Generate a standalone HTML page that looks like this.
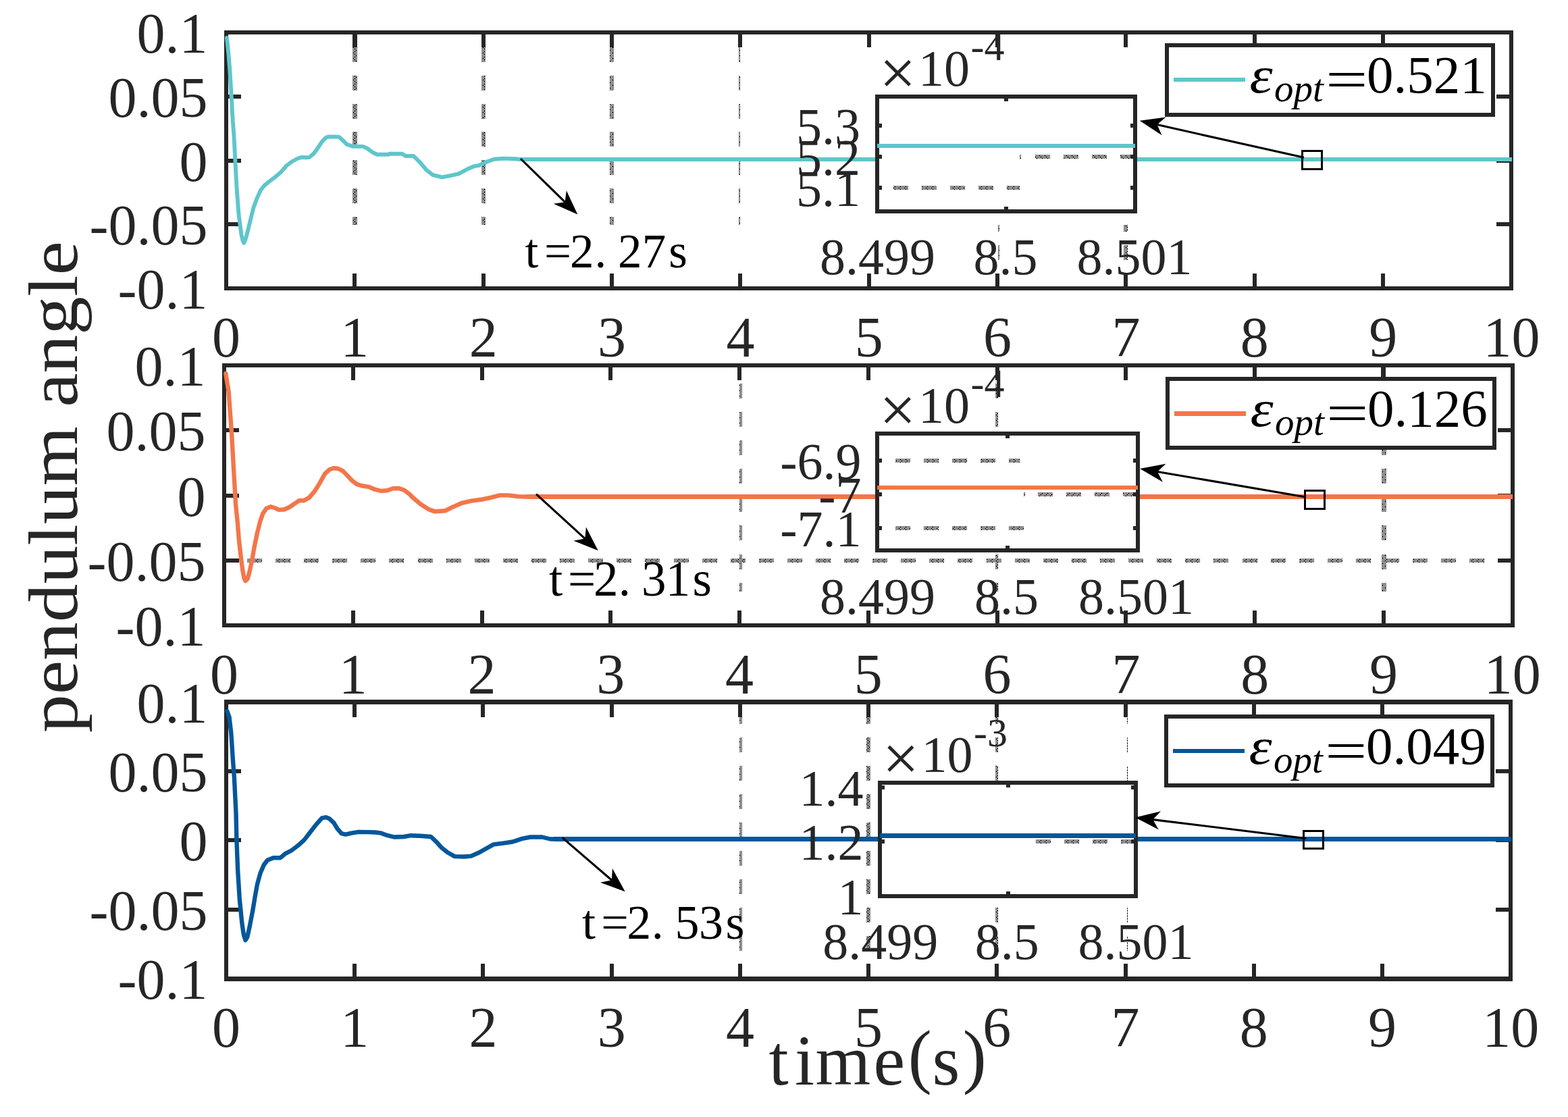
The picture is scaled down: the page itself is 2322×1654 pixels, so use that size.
<!DOCTYPE html>
<html lang="en"><head><meta charset="utf-8"><title>pendulum angle</title><style>html,body{margin:0;padding:0;background:#fff;}svg{display:block;}text{white-space:pre;}</style></head><body>
<svg width="2322" height="1654" viewBox="0 0 2322 1654" role="img" aria-label="pendulum angle versus time(s)">
<defs><pattern id="dz" width="8" height="8" patternUnits="userSpaceOnUse" shape-rendering="crispEdges"><rect width="8" height="8" fill="#ffffff"/><rect x="0" y="0" width="1" height="1" fill="#1e1e1e"/><rect x="0" y="2" width="1" height="1" fill="#1e1e1e"/><rect x="0" y="4" width="1" height="1" fill="#1e1e1e"/><rect x="0" y="6" width="1" height="1" fill="#1e1e1e"/><rect x="1" y="1" width="1" height="1" fill="#1e1e1e"/><rect x="1" y="3" width="1" height="1" fill="#1e1e1e"/><rect x="1" y="5" width="1" height="1" fill="#1e1e1e"/><rect x="1" y="7" width="1" height="1" fill="#1e1e1e"/><rect x="2" y="0" width="1" height="1" fill="#1e1e1e"/><rect x="2" y="2" width="1" height="1" fill="#1e1e1e"/><rect x="2" y="4" width="1" height="1" fill="#1e1e1e"/><rect x="2" y="6" width="1" height="1" fill="#1e1e1e"/><rect x="3" y="1" width="1" height="1" fill="#1e1e1e"/><rect x="3" y="3" width="1" height="1" fill="#1e1e1e"/><rect x="3" y="5" width="1" height="1" fill="#1e1e1e"/><rect x="3" y="6" width="1" height="1" fill="#1e1e1e"/><rect x="3" y="7" width="1" height="1" fill="#1e1e1e"/><rect x="4" y="0" width="1" height="1" fill="#1e1e1e"/><rect x="4" y="2" width="1" height="1" fill="#1e1e1e"/><rect x="4" y="4" width="1" height="1" fill="#1e1e1e"/><rect x="4" y="6" width="1" height="1" fill="#1e1e1e"/><rect x="5" y="0" width="1" height="1" fill="#1e1e1e"/><rect x="5" y="1" width="1" height="1" fill="#1e1e1e"/><rect x="5" y="3" width="1" height="1" fill="#1e1e1e"/><rect x="5" y="4" width="1" height="1" fill="#1e1e1e"/><rect x="5" y="5" width="1" height="1" fill="#1e1e1e"/><rect x="5" y="7" width="1" height="1" fill="#1e1e1e"/><rect x="6" y="0" width="1" height="1" fill="#1e1e1e"/><rect x="6" y="2" width="1" height="1" fill="#1e1e1e"/><rect x="6" y="4" width="1" height="1" fill="#1e1e1e"/><rect x="6" y="6" width="1" height="1" fill="#1e1e1e"/><rect x="7" y="1" width="1" height="1" fill="#1e1e1e"/><rect x="7" y="2" width="1" height="1" fill="#1e1e1e"/><rect x="7" y="3" width="1" height="1" fill="#1e1e1e"/><rect x="7" y="5" width="1" height="1" fill="#1e1e1e"/><rect x="7" y="7" width="1" height="1" fill="#1e1e1e"/></pattern></defs>
<rect x="0" y="0" width="2322" height="1654" fill="#ffffff" />
<g id="ax1">
<rect x="522" y="70" width="7" height="22" fill="url(#dz)" />
<rect x="522" y="112" width="7" height="22" fill="url(#dz)" />
<rect x="522" y="154" width="7" height="22" fill="url(#dz)" />
<rect x="522" y="195" width="7" height="22" fill="url(#dz)" />
<rect x="522" y="237" width="7" height="22" fill="url(#dz)" />
<rect x="522" y="279" width="7" height="22" fill="url(#dz)" />
<rect x="522" y="321" width="7" height="12" fill="url(#dz)" />
<rect x="713" y="70" width="6" height="22" fill="url(#dz)" />
<rect x="713" y="112" width="6" height="22" fill="url(#dz)" />
<rect x="713" y="154" width="6" height="22" fill="url(#dz)" />
<rect x="713" y="195" width="6" height="22" fill="url(#dz)" />
<rect x="713" y="237" width="6" height="22" fill="url(#dz)" />
<rect x="713" y="279" width="6" height="22" fill="url(#dz)" />
<rect x="713" y="321" width="6" height="12" fill="url(#dz)" />
<rect x="903" y="70" width="6" height="22" fill="url(#dz)" />
<rect x="903" y="112" width="6" height="22" fill="url(#dz)" />
<rect x="903" y="154" width="6" height="22" fill="url(#dz)" />
<rect x="903" y="195" width="6" height="22" fill="url(#dz)" />
<rect x="903" y="237" width="6" height="22" fill="url(#dz)" />
<rect x="903" y="279" width="6" height="22" fill="url(#dz)" />
<rect x="903" y="321" width="6" height="12" fill="url(#dz)" />
<rect x="1094" y="70" width="2" height="22" fill="url(#dz)" />
<rect x="1094" y="112" width="2" height="22" fill="url(#dz)" />
<rect x="1094" y="154" width="2" height="22" fill="url(#dz)" />
<rect x="1094" y="195" width="2" height="22" fill="url(#dz)" />
<rect x="1094" y="237" width="2" height="22" fill="url(#dz)" />
<rect x="1094" y="279" width="2" height="22" fill="url(#dz)" />
<rect x="1094" y="321" width="2" height="12" fill="url(#dz)" />
<rect x="1478" y="333" width="2" height="10" fill="url(#dz)" />
<rect x="1478" y="363" width="2" height="22" fill="url(#dz)" />
<rect x="1664" y="333" width="6" height="10" fill="url(#dz)" />
<rect x="1664" y="363" width="6" height="22" fill="url(#dz)" />
<rect x="332" y="45" width="1909" height="6" fill="#262626" />
<rect x="332" y="424" width="1909" height="6" fill="#262626" />
<rect x="332" y="45" width="6" height="385" fill="#262626" />
<rect x="2235" y="45" width="6" height="385" fill="#262626" />
<rect x="522" y="48" width="7" height="22" fill="#262626" />
<rect x="522" y="405" width="6" height="22" fill="#262626" />
<rect x="713" y="48" width="6" height="22" fill="#262626" />
<rect x="713" y="405" width="6" height="22" fill="#262626" />
<rect x="903" y="48" width="6" height="22" fill="#262626" />
<rect x="903" y="405" width="6" height="22" fill="#262626" />
<rect x="1093" y="48" width="6" height="22" fill="#262626" />
<rect x="1093" y="405" width="6" height="22" fill="#262626" />
<rect x="1284" y="48" width="6" height="22" fill="#262626" />
<rect x="1284" y="405" width="6" height="22" fill="#262626" />
<rect x="1474" y="48" width="6" height="22" fill="#262626" />
<rect x="1474" y="405" width="6" height="22" fill="#262626" />
<rect x="1664" y="48" width="6" height="22" fill="#262626" />
<rect x="1664" y="405" width="6" height="22" fill="#262626" />
<rect x="1855" y="48" width="6" height="22" fill="#262626" />
<rect x="1855" y="405" width="6" height="22" fill="#262626" />
<rect x="2045" y="48" width="6" height="22" fill="#262626" />
<rect x="2045" y="405" width="6" height="22" fill="#262626" />
<rect x="335" y="140" width="22" height="6" fill="#262626" />
<rect x="2216" y="140" width="22" height="6" fill="#262626" />
<rect x="335" y="235" width="22" height="6" fill="#262626" />
<rect x="2216" y="235" width="22" height="6" fill="#262626" />
<rect x="335" y="329" width="22" height="6" fill="#262626" />
<rect x="2216" y="329" width="22" height="6" fill="#262626" />
<text x="335" y="528" font-family="Liberation Serif, serif" font-size="84" text-anchor="middle" fill="#262626" >0</text>
<text x="525.35" y="528" font-family="Liberation Serif, serif" font-size="84" text-anchor="middle" fill="#262626" >1</text>
<text x="715.7" y="528" font-family="Liberation Serif, serif" font-size="84" text-anchor="middle" fill="#262626" >2</text>
<text x="906.05" y="528" font-family="Liberation Serif, serif" font-size="84" text-anchor="middle" fill="#262626" >3</text>
<text x="1096.4" y="528" font-family="Liberation Serif, serif" font-size="84" text-anchor="middle" fill="#262626" >4</text>
<text x="1286.75" y="528" font-family="Liberation Serif, serif" font-size="84" text-anchor="middle" fill="#262626" >5</text>
<text x="1477.1" y="528" font-family="Liberation Serif, serif" font-size="84" text-anchor="middle" fill="#262626" >6</text>
<text x="1667.45" y="528" font-family="Liberation Serif, serif" font-size="84" text-anchor="middle" fill="#262626" >7</text>
<text x="1857.8" y="528" font-family="Liberation Serif, serif" font-size="84" text-anchor="middle" fill="#262626" >8</text>
<text x="2048.15" y="528" font-family="Liberation Serif, serif" font-size="84" text-anchor="middle" fill="#262626" >9</text>
<text x="2238.5" y="528" font-family="Liberation Serif, serif" font-size="84" text-anchor="middle" fill="#262626" >10</text>
<text x="307.5" y="78" font-family="Liberation Serif, serif" font-size="84" text-anchor="end" fill="#262626" >0.1</text>
<text x="307.5" y="172.75" font-family="Liberation Serif, serif" font-size="84" text-anchor="end" fill="#262626" >0.05</text>
<text x="307.5" y="267.5" font-family="Liberation Serif, serif" font-size="84" text-anchor="end" fill="#262626" >0</text>
<text x="307.5" y="362.25" font-family="Liberation Serif, serif" font-size="84" text-anchor="end" fill="#262626" >-0.05</text>
<text x="307.5" y="457" font-family="Liberation Serif, serif" font-size="84" text-anchor="end" fill="#262626" >-0.1</text>
<polyline points="335.8,56.0 336.6,62.0 338.4,79.5 340.5,106.0 342.7,143.0 344.8,180.0 346.4,200.0 348.3,236.9 350.6,279.0 353.6,318.6 357.5,347.6 359.5,356.0 361.2,359.8 363.0,356.0 365.5,347.6 370.7,326.5 375.3,308.0 380.0,294.9 385.9,281.7 391.8,274.4 399.0,268.5 407.0,262.6 416.2,254.7 424.0,245.5 432.0,239.5 441.2,234.5 446.5,232.9 453.0,233.3 458.3,232.9 465.0,227.0 470.2,219.8 476.8,209.9 482.7,203.7 487.3,202.4 501.8,202.6 507.0,207.2 513.7,213.8 522.9,216.9 537.4,216.9 544.0,219.8 551.9,225.7 558.5,228.7 575.6,228.7 576.9,227.7 595.4,227.7 600.6,231.0 612.5,231.0 622.8,241.3 631.6,251.8 640.4,258.8 654.4,262.3 666.7,260.2 679.0,257.4 693.0,250.0 701.8,246.2 708.8,245.1 721.1,239.5 731.6,235.7 745.7,234.6 763.2,235.3 770.3,236.0 780.0,236.0" fill="none" stroke="#5FC6CB" stroke-width="5.9" stroke-linejoin="round" stroke-linecap="round"/>
<rect x="775" y="233" width="1464" height="6" fill="#5FC6CB" />
<line x1="771.0" y1="235.0" x2="836.6" y2="299.2" stroke="#000" stroke-width="3.1"/>
<polygon points="855.4,317.6 819.7,301.8 836.6,299.2 838.8,282.2" fill="#000"/>
<text x="777.6 806.1 844.0 880.4 915.1 950.8 990.3" y="395.5" font-family="Liberation Serif, serif" font-size="71" fill="#000">t=2.27s</text>
<rect x="1299" y="143" width="382" height="169" fill="#ffffff" />
<rect x="1323" y="275" width="22" height="6" fill="url(#dz)" />
<rect x="1365" y="275" width="22" height="6" fill="url(#dz)" />
<rect x="1407" y="275" width="22" height="6" fill="url(#dz)" />
<rect x="1449" y="275" width="22" height="6" fill="url(#dz)" />
<rect x="1491" y="275" width="19" height="6" fill="url(#dz)" />
<rect x="1510" y="229" width="2" height="6" fill="url(#dz)" />
<rect x="1533" y="229" width="22" height="6" fill="url(#dz)" />
<rect x="1575" y="229" width="22" height="6" fill="url(#dz)" />
<rect x="1617" y="229" width="22" height="6" fill="url(#dz)" />
<rect x="1659" y="229" width="19" height="6" fill="url(#dz)" />
<rect x="1296" y="140" width="388" height="6" fill="#262626" />
<rect x="1296" y="310" width="388" height="6" fill="#262626" />
<rect x="1296" y="140" width="6" height="176" fill="#262626" />
<rect x="1678" y="140" width="6" height="176" fill="#262626" />
<rect x="1487" y="143" width="6" height="7" fill="#262626" />
<rect x="1487" y="306" width="6" height="6" fill="#262626" />
<rect x="1299" y="183" width="7" height="6" fill="#262626" />
<rect x="1674" y="183" width="7" height="6" fill="#262626" />
<rect x="1299" y="229" width="7" height="6" fill="#262626" />
<rect x="1674" y="229" width="7" height="6" fill="#262626" />
<rect x="1299" y="275" width="7" height="6" fill="#262626" />
<rect x="1674" y="275" width="7" height="6" fill="#262626" />
<rect x="1299" y="213" width="382" height="6" fill="#5FC6CB" />
<text x="1274" y="213" font-family="Liberation Serif, serif" font-size="76" text-anchor="end" fill="#262626" >5.3</text>
<text x="1274" y="259" font-family="Liberation Serif, serif" font-size="76" text-anchor="end" fill="#262626" >5.2</text>
<text x="1274" y="305.2" font-family="Liberation Serif, serif" font-size="76" text-anchor="end" fill="#262626" >5.1</text>
<text x="1299.5" y="405.5" font-family="Liberation Serif, serif" font-size="76" text-anchor="middle" fill="#262626" >8.499</text>
<text x="1489" y="405.5" font-family="Liberation Serif, serif" font-size="76" text-anchor="middle" fill="#262626" >8.5</text>
<text x="1680" y="405.5" font-family="Liberation Serif, serif" font-size="76" text-anchor="middle" fill="#262626" >8.501</text>
<text x="1302.3" y="127" font-family="Liberation Serif, serif" font-size="76" fill="#262626"><tspan font-size="96" dy="12.5">×</tspan><tspan x="1360" dy="-12.5">10</tspan><tspan x="1437.6" dy="-38" font-size="60">-4</tspan></text>
<line x1="1931.0" y1="233.3" x2="1713.5" y2="184.6" stroke="#000" stroke-width="3.1"/>
<polygon points="1687.8,178.8 1726.5,173.4 1713.5,184.6 1720.5,200.2" fill="#000"/>
<rect x="1928.5" y="223.5" width="29" height="27" fill="none" stroke="#000" stroke-width="3"/>
<rect x="1728" y="67" width="483" height="103" fill="#ffffff" />
<rect x="1725" y="64" width="489" height="6" fill="#262626" />
<rect x="1725" y="167" width="489" height="6" fill="#262626" />
<rect x="1725" y="64" width="6" height="109" fill="#262626" />
<rect x="2208" y="64" width="6" height="109" fill="#262626" />
<rect x="1738" y="115" width="106" height="6" fill="#5FC6CB" />
<g fill="#000" font-family="Liberation Serif, serif">
<text transform="translate(1850.5,137) scale(1.14,1)" font-size="76" font-style="italic">ε</text>
<text x="1887" y="150" font-size="57" font-style="italic">opt</text>
<text x="1963" y="144" font-size="79" textLength="62.6" lengthAdjust="spacingAndGlyphs">=</text>
<text x="2024" y="137" font-size="79">0.521</text>
</g>
</g>
<g id="ax2">
<rect x="1095" y="568" width="4" height="22" fill="url(#dz)" />
<rect x="1095" y="610" width="4" height="22" fill="url(#dz)" />
<rect x="1095" y="652" width="4" height="22" fill="url(#dz)" />
<rect x="1095" y="694" width="4" height="22" fill="url(#dz)" />
<rect x="1095" y="736" width="4" height="22" fill="url(#dz)" />
<rect x="1095" y="778" width="4" height="22" fill="url(#dz)" />
<rect x="1095" y="821" width="4" height="22" fill="url(#dz)" />
<rect x="1095" y="863" width="4" height="13" fill="url(#dz)" />
<rect x="1474" y="568" width="4" height="22" fill="url(#dz)" />
<rect x="1474" y="610" width="4" height="22" fill="url(#dz)" />
<rect x="1474" y="652" width="4" height="22" fill="url(#dz)" />
<rect x="1474" y="694" width="4" height="22" fill="url(#dz)" />
<rect x="1474" y="736" width="4" height="22" fill="url(#dz)" />
<rect x="1474" y="778" width="4" height="22" fill="url(#dz)" />
<rect x="1474" y="821" width="4" height="22" fill="url(#dz)" />
<rect x="1474" y="863" width="4" height="13" fill="url(#dz)" />
<rect x="2046" y="568" width="7" height="22" fill="url(#dz)" />
<rect x="2046" y="610" width="7" height="22" fill="url(#dz)" />
<rect x="2046" y="652" width="7" height="22" fill="url(#dz)" />
<rect x="2046" y="694" width="7" height="22" fill="url(#dz)" />
<rect x="2046" y="736" width="7" height="22" fill="url(#dz)" />
<rect x="2046" y="778" width="7" height="22" fill="url(#dz)" />
<rect x="2046" y="821" width="7" height="22" fill="url(#dz)" />
<rect x="2046" y="863" width="7" height="13" fill="url(#dz)" />
<rect x="366" y="827" width="22" height="6" fill="url(#dz)" />
<rect x="408" y="827" width="22" height="6" fill="url(#dz)" />
<rect x="450" y="827" width="22" height="6" fill="url(#dz)" />
<rect x="492" y="827" width="22" height="6" fill="url(#dz)" />
<rect x="534" y="827" width="22" height="6" fill="url(#dz)" />
<rect x="576" y="827" width="22" height="6" fill="url(#dz)" />
<rect x="619" y="827" width="22" height="6" fill="url(#dz)" />
<rect x="661" y="827" width="22" height="6" fill="url(#dz)" />
<rect x="703" y="827" width="22" height="6" fill="url(#dz)" />
<rect x="745" y="827" width="22" height="6" fill="url(#dz)" />
<rect x="787" y="827" width="22" height="6" fill="url(#dz)" />
<rect x="829" y="827" width="22" height="6" fill="url(#dz)" />
<rect x="871" y="827" width="22" height="6" fill="url(#dz)" />
<rect x="913" y="827" width="22" height="6" fill="url(#dz)" />
<rect x="955" y="827" width="22" height="6" fill="url(#dz)" />
<rect x="998" y="827" width="22" height="6" fill="url(#dz)" />
<rect x="1040" y="827" width="22" height="6" fill="url(#dz)" />
<rect x="1082" y="827" width="22" height="6" fill="url(#dz)" />
<rect x="1124" y="827" width="22" height="6" fill="url(#dz)" />
<rect x="1166" y="827" width="22" height="6" fill="url(#dz)" />
<rect x="1208" y="827" width="22" height="6" fill="url(#dz)" />
<rect x="1250" y="827" width="22" height="6" fill="url(#dz)" />
<rect x="1292" y="827" width="22" height="6" fill="url(#dz)" />
<rect x="1334" y="827" width="22" height="6" fill="url(#dz)" />
<rect x="1376" y="827" width="22" height="6" fill="url(#dz)" />
<rect x="1418" y="827" width="22" height="6" fill="url(#dz)" />
<rect x="1461" y="827" width="22" height="6" fill="url(#dz)" />
<rect x="1503" y="827" width="22" height="6" fill="url(#dz)" />
<rect x="1545" y="827" width="22" height="6" fill="url(#dz)" />
<rect x="1587" y="827" width="22" height="6" fill="url(#dz)" />
<rect x="1629" y="827" width="22" height="6" fill="url(#dz)" />
<rect x="1671" y="827" width="22" height="6" fill="url(#dz)" />
<rect x="1713" y="827" width="22" height="6" fill="url(#dz)" />
<rect x="1755" y="827" width="22" height="6" fill="url(#dz)" />
<rect x="1797" y="827" width="22" height="6" fill="url(#dz)" />
<rect x="1840" y="827" width="22" height="6" fill="url(#dz)" />
<rect x="1882" y="827" width="22" height="6" fill="url(#dz)" />
<rect x="1924" y="827" width="22" height="6" fill="url(#dz)" />
<rect x="1966" y="827" width="22" height="6" fill="url(#dz)" />
<rect x="2008" y="827" width="22" height="6" fill="url(#dz)" />
<rect x="2050" y="827" width="22" height="6" fill="url(#dz)" />
<rect x="2092" y="827" width="22" height="6" fill="url(#dz)" />
<rect x="2134" y="827" width="22" height="6" fill="url(#dz)" />
<rect x="2176" y="827" width="22" height="6" fill="url(#dz)" />
<rect x="329" y="538" width="1914" height="6" fill="#262626" />
<rect x="329" y="923" width="1914" height="6" fill="#262626" />
<rect x="329" y="538" width="6" height="391" fill="#262626" />
<rect x="2237" y="538" width="6" height="391" fill="#262626" />
<rect x="520" y="541" width="6" height="22" fill="#262626" />
<rect x="520" y="904" width="6" height="22" fill="#262626" />
<rect x="711" y="541" width="6" height="22" fill="#262626" />
<rect x="711" y="904" width="6" height="22" fill="#262626" />
<rect x="901" y="541" width="6" height="22" fill="#262626" />
<rect x="901" y="904" width="6" height="22" fill="#262626" />
<rect x="1092" y="541" width="6" height="22" fill="#262626" />
<rect x="1092" y="904" width="6" height="22" fill="#262626" />
<rect x="1283" y="541" width="6" height="22" fill="#262626" />
<rect x="1283" y="904" width="6" height="22" fill="#262626" />
<rect x="1474" y="541" width="6" height="22" fill="#262626" />
<rect x="1474" y="904" width="6" height="22" fill="#262626" />
<rect x="1664" y="541" width="6" height="22" fill="#262626" />
<rect x="1664" y="904" width="6" height="22" fill="#262626" />
<rect x="1855" y="541" width="6" height="22" fill="#262626" />
<rect x="1855" y="904" width="6" height="22" fill="#262626" />
<rect x="2045" y="541" width="7" height="22" fill="#262626" />
<rect x="2046" y="904" width="6" height="22" fill="#262626" />
<rect x="332" y="634" width="22" height="6" fill="#262626" />
<rect x="2218" y="634" width="22" height="6" fill="#262626" />
<rect x="332" y="731" width="22" height="6" fill="#262626" />
<rect x="2218" y="731" width="22" height="6" fill="#262626" />
<rect x="332" y="827" width="22" height="6" fill="#262626" />
<rect x="2218" y="827" width="22" height="6" fill="#262626" />
<text x="332" y="1027" font-family="Liberation Serif, serif" font-size="84" text-anchor="middle" fill="#262626" >0</text>
<text x="522.77" y="1027" font-family="Liberation Serif, serif" font-size="84" text-anchor="middle" fill="#262626" >1</text>
<text x="713.54" y="1027" font-family="Liberation Serif, serif" font-size="84" text-anchor="middle" fill="#262626" >2</text>
<text x="904.31" y="1027" font-family="Liberation Serif, serif" font-size="84" text-anchor="middle" fill="#262626" >3</text>
<text x="1095.08" y="1027" font-family="Liberation Serif, serif" font-size="84" text-anchor="middle" fill="#262626" >4</text>
<text x="1285.85" y="1027" font-family="Liberation Serif, serif" font-size="84" text-anchor="middle" fill="#262626" >5</text>
<text x="1476.62" y="1027" font-family="Liberation Serif, serif" font-size="84" text-anchor="middle" fill="#262626" >6</text>
<text x="1667.39" y="1027" font-family="Liberation Serif, serif" font-size="84" text-anchor="middle" fill="#262626" >7</text>
<text x="1858.16" y="1027" font-family="Liberation Serif, serif" font-size="84" text-anchor="middle" fill="#262626" >8</text>
<text x="2048.93" y="1027" font-family="Liberation Serif, serif" font-size="84" text-anchor="middle" fill="#262626" >9</text>
<text x="2239.7" y="1027" font-family="Liberation Serif, serif" font-size="84" text-anchor="middle" fill="#262626" >10</text>
<text x="304.5" y="571" font-family="Liberation Serif, serif" font-size="84" text-anchor="end" fill="#262626" >0.1</text>
<text x="304.5" y="667.25" font-family="Liberation Serif, serif" font-size="84" text-anchor="end" fill="#262626" >0.05</text>
<text x="304.5" y="763.5" font-family="Liberation Serif, serif" font-size="84" text-anchor="end" fill="#262626" >0</text>
<text x="304.5" y="859.75" font-family="Liberation Serif, serif" font-size="84" text-anchor="end" fill="#262626" >-0.05</text>
<text x="304.5" y="956" font-family="Liberation Serif, serif" font-size="84" text-anchor="end" fill="#262626" >-0.1</text>
<polyline points="334.3,553.0 335.0,558.0 336.2,565.0 338.6,580.0 340.0,600.0 342.8,637.5 345.2,680.0 347.5,720.0 349.0,746.4 351.7,772.7 353.8,799.0 356.8,825.4 359.4,845.2 361.4,855.7 363.4,860.3 366.7,857.0 369.9,845.2 373.2,829.4 377.2,807.0 381.1,788.5 385.1,772.7 389.1,760.8 394.3,752.9 400.9,750.3 407.5,752.3 412.8,754.9 420.7,754.5 428.6,751.0 436.5,745.7 443.1,741.1 449.7,741.3 457.6,737.1 465.5,727.9 470.7,720.0 474.7,713.1 481.3,701.3 487.9,695.3 494.5,693.1 501.0,694.0 507.6,697.3 514.2,703.9 520.8,711.2 528.7,717.1 536.6,719.5 545.8,720.8 555.1,724.7 564.3,727.0 573.5,726.3 581.4,723.4 590.6,723.0 598.5,725.7 606.4,731.6 610.5,736.0 622.8,746.5 635.1,754.4 643.9,757.4 659.7,756.2 670.2,750.9 684.2,744.8 698.3,741.6 714.1,739.5 726.4,736.9 740.4,733.4 752.7,733.4 766.7,735.1 775.0,735.5 785.0,735.5" fill="none" stroke="#F3764A" stroke-width="6.4" stroke-linejoin="round" stroke-linecap="round"/>
<rect x="780" y="732" width="1460" height="7" fill="#F3764A" />
<line x1="794.0" y1="731.6" x2="866.3" y2="797.6" stroke="#000" stroke-width="3.1"/>
<polygon points="885.7,815.3 849.4,800.7 866.3,797.6 867.9,780.5" fill="#000"/>
<text x="812.9 841.0 879.0 915.7 950.1 985.8 1025.4" y="881.7" font-family="Liberation Serif, serif" font-size="73" fill="#000">t=2.31s</text>
<rect x="1299" y="642" width="386" height="174" fill="#ffffff" />
<rect x="1326" y="679" width="22" height="6" fill="url(#dz)" />
<rect x="1368" y="679" width="22" height="6" fill="url(#dz)" />
<rect x="1410" y="679" width="22" height="6" fill="url(#dz)" />
<rect x="1452" y="679" width="22" height="6" fill="url(#dz)" />
<rect x="1494" y="679" width="16" height="6" fill="url(#dz)" />
<rect x="1326" y="779" width="22" height="6" fill="url(#dz)" />
<rect x="1368" y="779" width="22" height="6" fill="url(#dz)" />
<rect x="1410" y="779" width="22" height="6" fill="url(#dz)" />
<rect x="1452" y="779" width="22" height="6" fill="url(#dz)" />
<rect x="1494" y="779" width="22" height="6" fill="url(#dz)" />
<rect x="1516" y="729" width="2" height="6" fill="url(#dz)" />
<rect x="1537" y="729" width="22" height="6" fill="url(#dz)" />
<rect x="1579" y="729" width="22" height="6" fill="url(#dz)" />
<rect x="1621" y="729" width="22" height="6" fill="url(#dz)" />
<rect x="1663" y="729" width="19" height="6" fill="url(#dz)" />
<rect x="1296" y="639" width="392" height="6" fill="#262626" />
<rect x="1296" y="812" width="392" height="6" fill="#262626" />
<rect x="1296" y="639" width="6" height="179" fill="#262626" />
<rect x="1682" y="639" width="6" height="179" fill="#262626" />
<rect x="1489" y="642" width="6" height="7" fill="#262626" />
<rect x="1489" y="808" width="6" height="8" fill="#262626" />
<rect x="1299" y="679" width="7" height="6" fill="#262626" />
<rect x="1678" y="679" width="7" height="6" fill="#262626" />
<rect x="1299" y="729" width="7" height="6" fill="#262626" />
<rect x="1678" y="729" width="7" height="6" fill="#262626" />
<rect x="1299" y="779" width="7" height="6" fill="#262626" />
<rect x="1678" y="779" width="7" height="6" fill="#262626" />
<rect x="1299" y="719" width="386" height="6" fill="#F3764A" />
<text x="1275.5" y="708.8" font-family="Liberation Serif, serif" font-size="76" text-anchor="end" fill="#262626" >-6.9</text>
<text x="1275.5" y="758.8" font-family="Liberation Serif, serif" font-size="76" text-anchor="end" fill="#262626" >-7</text>
<text x="1275.5" y="809.2" font-family="Liberation Serif, serif" font-size="76" text-anchor="end" fill="#262626" >-7.1</text>
<text x="1299.4" y="909" font-family="Liberation Serif, serif" font-size="76" text-anchor="middle" fill="#262626" >8.499</text>
<text x="1490.5" y="909" font-family="Liberation Serif, serif" font-size="76" text-anchor="middle" fill="#262626" >8.5</text>
<text x="1682.5" y="909" font-family="Liberation Serif, serif" font-size="76" text-anchor="middle" fill="#262626" >8.501</text>
<text x="1302.3" y="626.2" font-family="Liberation Serif, serif" font-size="76" fill="#262626"><tspan font-size="96" dy="12.5">×</tspan><tspan x="1360" dy="-12.5">10</tspan><tspan x="1437.6" dy="-38" font-size="60">-4</tspan></text>
<line x1="1932.0" y1="735.7" x2="1714.0" y2="698.5" stroke="#000" stroke-width="3.1"/>
<polygon points="1688.1,694.1 1726.5,686.7 1714.0,698.5 1721.9,713.8" fill="#000"/>
<rect x="1932.5" y="726.5" width="29" height="27" fill="none" stroke="#000" stroke-width="3"/>
<rect x="1729" y="561" width="484" height="102" fill="#ffffff" />
<rect x="1726" y="558" width="490" height="6" fill="#262626" />
<rect x="1726" y="660" width="490" height="6" fill="#262626" />
<rect x="1726" y="558" width="6" height="108" fill="#262626" />
<rect x="2210" y="558" width="6" height="108" fill="#262626" />
<rect x="1739" y="609" width="106" height="7" fill="#F3764A" />
<g fill="#000" font-family="Liberation Serif, serif">
<text transform="translate(1851.5,631) scale(1.14,1)" font-size="76" font-style="italic">ε</text>
<text x="1888" y="644" font-size="57" font-style="italic">opt</text>
<text x="1964" y="638" font-size="79" textLength="62.6" lengthAdjust="spacingAndGlyphs">=</text>
<text x="2025" y="631" font-size="79">0.126</text>
</g>
</g>
<g id="ax3">
<rect x="1095" y="1062" width="4" height="10" fill="url(#dz)" />
<rect x="1095" y="1092" width="4" height="22" fill="url(#dz)" />
<rect x="1095" y="1134" width="4" height="22" fill="url(#dz)" />
<rect x="1095" y="1176" width="4" height="22" fill="url(#dz)" />
<rect x="1095" y="1218" width="4" height="22" fill="url(#dz)" />
<rect x="1095" y="1260" width="4" height="22" fill="url(#dz)" />
<rect x="1095" y="1302" width="4" height="22" fill="url(#dz)" />
<rect x="1095" y="1344" width="4" height="22" fill="url(#dz)" />
<rect x="1095" y="1386" width="4" height="22" fill="url(#dz)" />
<rect x="1283" y="1062" width="6" height="10" fill="url(#dz)" />
<rect x="1283" y="1092" width="6" height="22" fill="url(#dz)" />
<rect x="1283" y="1134" width="6" height="22" fill="url(#dz)" />
<rect x="1283" y="1176" width="6" height="22" fill="url(#dz)" />
<rect x="1283" y="1218" width="6" height="22" fill="url(#dz)" />
<rect x="1283" y="1260" width="6" height="22" fill="url(#dz)" />
<rect x="1283" y="1302" width="6" height="22" fill="url(#dz)" />
<rect x="1283" y="1344" width="6" height="22" fill="url(#dz)" />
<rect x="1283" y="1386" width="6" height="22" fill="url(#dz)" />
<rect x="1474" y="1062" width="4" height="10" fill="url(#dz)" />
<rect x="1474" y="1092" width="4" height="22" fill="url(#dz)" />
<rect x="1474" y="1134" width="4" height="22" fill="url(#dz)" />
<rect x="1474" y="1176" width="4" height="22" fill="url(#dz)" />
<rect x="1474" y="1218" width="4" height="22" fill="url(#dz)" />
<rect x="1474" y="1260" width="4" height="22" fill="url(#dz)" />
<rect x="1474" y="1302" width="4" height="22" fill="url(#dz)" />
<rect x="1474" y="1344" width="4" height="22" fill="url(#dz)" />
<rect x="1474" y="1386" width="4" height="22" fill="url(#dz)" />
<rect x="1669" y="1062" width="1" height="10" fill="url(#dz)" />
<rect x="1669" y="1092" width="1" height="22" fill="url(#dz)" />
<rect x="1669" y="1134" width="1" height="22" fill="url(#dz)" />
<rect x="1669" y="1176" width="1" height="22" fill="url(#dz)" />
<rect x="1669" y="1218" width="1" height="22" fill="url(#dz)" />
<rect x="1669" y="1260" width="1" height="22" fill="url(#dz)" />
<rect x="1669" y="1302" width="1" height="22" fill="url(#dz)" />
<rect x="1669" y="1344" width="1" height="22" fill="url(#dz)" />
<rect x="1669" y="1386" width="1" height="22" fill="url(#dz)" />
<rect x="332" y="1036" width="1908" height="7" fill="#262626" />
<rect x="332" y="1446" width="1908" height="7" fill="#262626" />
<rect x="332" y="1036" width="6" height="416" fill="#262626" />
<rect x="2234" y="1036" width="6" height="416" fill="#262626" />
<rect x="522" y="1040" width="6" height="22" fill="#262626" />
<rect x="522" y="1427" width="6" height="22" fill="#262626" />
<rect x="712" y="1040" width="6" height="22" fill="#262626" />
<rect x="712" y="1427" width="6" height="22" fill="#262626" />
<rect x="903" y="1040" width="6" height="22" fill="#262626" />
<rect x="903" y="1427" width="6" height="22" fill="#262626" />
<rect x="1093" y="1040" width="6" height="22" fill="#262626" />
<rect x="1093" y="1427" width="6" height="22" fill="#262626" />
<rect x="1283" y="1040" width="6" height="22" fill="#262626" />
<rect x="1283" y="1427" width="6" height="22" fill="#262626" />
<rect x="1473" y="1040" width="6" height="22" fill="#262626" />
<rect x="1473" y="1427" width="6" height="22" fill="#262626" />
<rect x="1664" y="1040" width="6" height="22" fill="#262626" />
<rect x="1664" y="1427" width="6" height="22" fill="#262626" />
<rect x="1854" y="1040" width="6" height="22" fill="#262626" />
<rect x="1854" y="1427" width="6" height="22" fill="#262626" />
<rect x="2044" y="1040" width="6" height="22" fill="#262626" />
<rect x="2044" y="1427" width="6" height="22" fill="#262626" />
<rect x="335" y="1139" width="22" height="6" fill="#262626" />
<rect x="2215" y="1139" width="22" height="6" fill="#262626" />
<rect x="335" y="1241" width="22" height="6" fill="#262626" />
<rect x="2215" y="1241" width="22" height="6" fill="#262626" />
<rect x="335" y="1344" width="22" height="6" fill="#262626" />
<rect x="2215" y="1344" width="22" height="6" fill="#262626" />
<text x="335" y="1550.4" font-family="Liberation Serif, serif" font-size="84" text-anchor="middle" fill="#262626" >0</text>
<text x="525.22" y="1550.4" font-family="Liberation Serif, serif" font-size="84" text-anchor="middle" fill="#262626" >1</text>
<text x="715.44" y="1550.4" font-family="Liberation Serif, serif" font-size="84" text-anchor="middle" fill="#262626" >2</text>
<text x="905.66" y="1550.4" font-family="Liberation Serif, serif" font-size="84" text-anchor="middle" fill="#262626" >3</text>
<text x="1095.88" y="1550.4" font-family="Liberation Serif, serif" font-size="84" text-anchor="middle" fill="#262626" >4</text>
<text x="1286.1" y="1550.4" font-family="Liberation Serif, serif" font-size="84" text-anchor="middle" fill="#262626" >5</text>
<text x="1476.32" y="1550.4" font-family="Liberation Serif, serif" font-size="84" text-anchor="middle" fill="#262626" >6</text>
<text x="1666.54" y="1550.4" font-family="Liberation Serif, serif" font-size="84" text-anchor="middle" fill="#262626" >7</text>
<text x="1856.76" y="1550.4" font-family="Liberation Serif, serif" font-size="84" text-anchor="middle" fill="#262626" >8</text>
<text x="2046.98" y="1550.4" font-family="Liberation Serif, serif" font-size="84" text-anchor="middle" fill="#262626" >9</text>
<text x="2237.2" y="1550.4" font-family="Liberation Serif, serif" font-size="84" text-anchor="middle" fill="#262626" >10</text>
<text x="307.5" y="1069.5" font-family="Liberation Serif, serif" font-size="84" text-anchor="end" fill="#262626" >0.1</text>
<text x="307.5" y="1171.97" font-family="Liberation Serif, serif" font-size="84" text-anchor="end" fill="#262626" >0.05</text>
<text x="307.5" y="1274.45" font-family="Liberation Serif, serif" font-size="84" text-anchor="end" fill="#262626" >0</text>
<text x="307.5" y="1376.93" font-family="Liberation Serif, serif" font-size="84" text-anchor="end" fill="#262626" >-0.05</text>
<text x="307.5" y="1479.4" font-family="Liberation Serif, serif" font-size="84" text-anchor="end" fill="#262626" >-0.1</text>
<polyline points="336.4,1053.0 337.5,1056.0 339.6,1062.0 342.3,1085.9 344.9,1125.4 346.9,1151.8 348.2,1178.1 349.5,1204.5 350.4,1243.9 352.1,1287.8 354.8,1331.6 358.3,1366.7 360.9,1384.3 363.5,1392.2 366.2,1387.8 369.7,1372.0 374.1,1349.2 377.6,1328.1 381.1,1308.8 385.5,1293.0 390.7,1280.7 396.0,1273.7 404.8,1270.2 415.3,1270.2 422.3,1264.1 431.1,1259.7 441.6,1251.8 450.4,1243.9 459.2,1232.5 468.0,1221.1 476.7,1211.4 482.9,1210.2 487.3,1211.9 494.3,1218.4 499.6,1227.2 505.7,1234.2 511.8,1235.6 520.6,1233.7 531.1,1231.9 543.4,1232.1 555.7,1232.5 564.5,1233.7 573.3,1236.9 583.8,1239.5 597.8,1239.0 608.4,1237.2 622.4,1237.7 638.2,1239.0 647.0,1247.4 654.0,1255.3 662.8,1262.3 673.3,1268.1 687.4,1268.5 697.6,1267.6 709.8,1262.3 720.4,1256.2 730.9,1250.4 744.9,1248.6 759.0,1246.5 773.0,1241.9 785.3,1239.5 802.9,1239.5 815.1,1242.5 825.0,1242.5" fill="none" stroke="#03579B" stroke-width="6.4" stroke-linejoin="round" stroke-linecap="round"/>
<rect x="820" y="1239" width="1418" height="7" fill="#03579B" />
<line x1="832.7" y1="1240.4" x2="905.8" y2="1303.2" stroke="#000" stroke-width="3.1"/>
<polygon points="925.7,1320.3 889.0,1306.8 905.8,1303.2 906.9,1286.1" fill="#000"/>
<text x="862.0 890.3 928.2 964.8 999.4 1035.0 1074.6" y="1389.5" font-family="Liberation Serif, serif" font-size="72" fill="#000">t=2.53s</text>
<rect x="1303" y="1159" width="379" height="167" fill="#ffffff" />
<rect x="1534" y="1243" width="22" height="6" fill="url(#dz)" />
<rect x="1576" y="1243" width="22" height="6" fill="url(#dz)" />
<rect x="1618" y="1243" width="22" height="6" fill="url(#dz)" />
<rect x="1660" y="1243" width="20" height="6" fill="url(#dz)" />
<rect x="1300" y="1156" width="385" height="6" fill="#262626" />
<rect x="1300" y="1324" width="385" height="6" fill="#262626" />
<rect x="1300" y="1156" width="6" height="174" fill="#262626" />
<rect x="1679" y="1156" width="6" height="174" fill="#262626" />
<rect x="1490" y="1159" width="6" height="7" fill="#262626" />
<rect x="1490" y="1320" width="6" height="6" fill="#262626" />
<rect x="1303" y="1163" width="7" height="6" fill="#262626" />
<rect x="1675" y="1163" width="7" height="6" fill="#262626" />
<rect x="1303" y="1243" width="7" height="6" fill="#262626" />
<rect x="1675" y="1243" width="7" height="6" fill="#262626" />
<rect x="1303" y="1324" width="7" height="6" fill="#262626" />
<rect x="1675" y="1324" width="7" height="6" fill="#262626" />
<rect x="1303" y="1234" width="379" height="7" fill="#03579B" />
<text x="1278.4" y="1193" font-family="Liberation Serif, serif" font-size="76" text-anchor="end" fill="#262626" >1.4</text>
<text x="1278.4" y="1273" font-family="Liberation Serif, serif" font-size="76" text-anchor="end" fill="#262626" >1.2</text>
<text x="1278.4" y="1353.5" font-family="Liberation Serif, serif" font-size="76" text-anchor="end" fill="#262626" >1</text>
<text x="1303.7" y="1420.3" font-family="Liberation Serif, serif" font-size="76" text-anchor="middle" fill="#262626" >8.499</text>
<text x="1491.2" y="1420.3" font-family="Liberation Serif, serif" font-size="76" text-anchor="middle" fill="#262626" >8.5</text>
<text x="1682" y="1420.3" font-family="Liberation Serif, serif" font-size="76" text-anchor="middle" fill="#262626" >8.501</text>
<text x="1306.7" y="1142.9" font-family="Liberation Serif, serif" font-size="76" fill="#262626"><tspan font-size="96" dy="12.5">×</tspan><tspan x="1364.4" dy="-12.5">10</tspan><tspan x="1442" dy="-38" font-size="60">-3</tspan></text>
<line x1="1934.0" y1="1241.5" x2="1707.2" y2="1213.6" stroke="#000" stroke-width="3.1"/>
<polygon points="1681.1,1210.4 1719.1,1201.3 1707.2,1213.6 1715.8,1228.5" fill="#000"/>
<rect x="1930.5" y="1230.5" width="29" height="26" fill="none" stroke="#000" stroke-width="3"/>
<rect x="1727" y="1060" width="483" height="104" fill="#ffffff" />
<rect x="1724" y="1058" width="489" height="6" fill="#262626" />
<rect x="1724" y="1160" width="489" height="6" fill="#262626" />
<rect x="1724" y="1058" width="6" height="108" fill="#262626" />
<rect x="2207" y="1058" width="6" height="108" fill="#262626" />
<rect x="1737" y="1109" width="106" height="6" fill="#03579B" />
<g fill="#000" font-family="Liberation Serif, serif">
<text transform="translate(1849.5,1131) scale(1.14,1)" font-size="76" font-style="italic">ε</text>
<text x="1886" y="1144" font-size="57" font-style="italic">opt</text>
<text x="1962" y="1138" font-size="79" textLength="62.6" lengthAdjust="spacingAndGlyphs">=</text>
<text x="2023" y="1131" font-size="79">0.049</text>
</g>
</g>
<text transform="translate(113.5,1085) rotate(-90)" font-family="Liberation Serif, serif" font-size="104" fill="#262626" textLength="728" lengthAdjust="spacingAndGlyphs">pendulum angle</text>
<text x="1138.5 1177 1207.5 1293.5" y="1606" font-family="Liberation Serif, serif" font-size="105" fill="#262626">time<tspan x="1344.8" dy="-7">(</tspan><tspan x="1380.5" dy="7">s</tspan><tspan x="1425.7" dy="-7">)</tspan></text>
</svg>
</body></html>
